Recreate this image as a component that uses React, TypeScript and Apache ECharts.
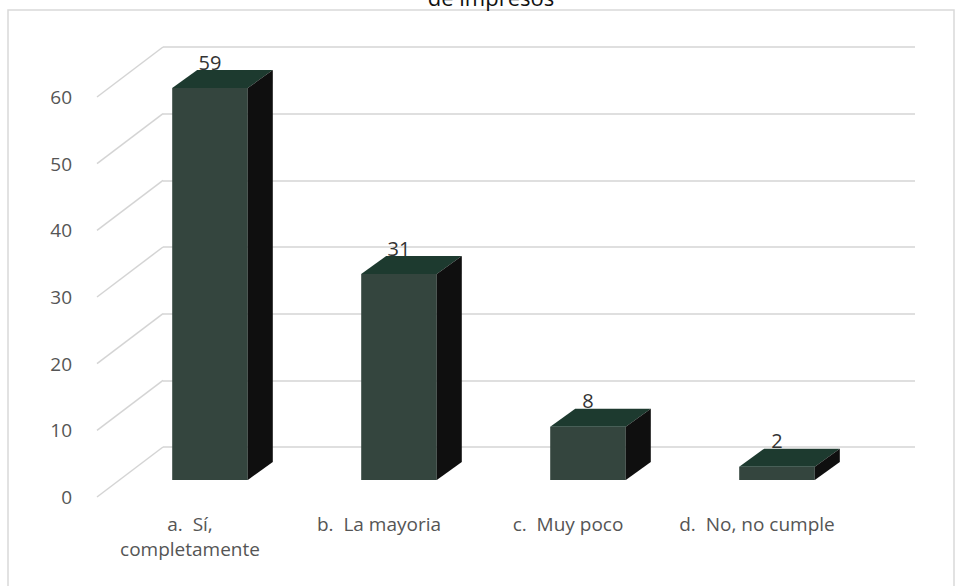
import React, { useEffect, useRef } from "react";
import * as echarts from "echarts";

const categories = ["a.  Sí,\ncompletamente", "b.  La mayoria", "c.  Muy poco", "d.  No, no cumple"];
const values = [59, 31, 8, 2];
const yTicks = [0, 10, 20, 30, 40, 50, 60];
const titleText = "de impresos";

const FONT = "'Open Sans', 'Noto Sans', sans-serif";
const DX = 25;
const DY = -18;

export default function App() {
  const ref = useRef<HTMLDivElement>(null);
  useEffect(() => {
    if (!ref.current) return;
    const chart = echarts.init(ref.current, null, { renderer: "svg" });
    const option: any = {
      animation: false,
      backgroundColor: "#ffffff",
      graphic: [
        {
          type: "rect",
          shape: { x: 8, y: 10, width: 946, height: 600 },
          style: { fill: "none", stroke: "#d9d9d9", lineWidth: 1.5 },
          silent: true,
        },
        {
          type: "text",
          x: 491,
          y: 8,
          style: {
            text: titleText,
            fill: "#111",
            font: `22px ${FONT}`,
            align: "center",
            verticalAlign: "bottom",
          },
          silent: true,
        },
      ],
      grid: [
        { left: 97, right: 47, top: 97, bottom: 89 },
        { left: 163, right: 47, top: 47, bottom: 139 },
        { left: 115.5, right: 90.5, top: 81.4, bottom: 106 },
      ],
      xAxis: [
        { gridIndex: 0, type: "value", min: 0, max: 1, show: false },
        { gridIndex: 1, type: "value", min: 0, max: 1, show: false },
        {
          gridIndex: 2,
          type: "category",
          data: categories,
          axisLine: { show: false },
          axisTick: { show: false },
          axisLabel: {
            color: "#555",
            fontFamily: FONT,
            fontSize: 19,
            lineHeight: 25,
            margin: 31,
            interval: 0,
            padding: [0, 40, 0, 0],
          },
        },
      ],
      yAxis: [
        {
          gridIndex: 0,
          type: "value",
          min: 0,
          max: 60,
          interval: 10,
          axisLine: { show: false },
          axisTick: { show: false },
          splitLine: { show: false },
          axisLabel: { color: "#555", fontFamily: FONT, fontSize: 19, margin: 25 },
        },
        {
          gridIndex: 1,
          type: "value",
          min: 0,
          max: 60,
          interval: 10,
          axisLine: { show: false },
          axisTick: { show: false },
          axisLabel: { show: false },
          splitLine: { show: true, lineStyle: { color: "#d4d4d4", width: 1.5 } },
        },
        {
          gridIndex: 2,
          type: "value",
          min: 0,
          max: 60,
          show: false,
        },
      ],
      series: [
        {
          type: "custom",
          xAxisIndex: 0,
          yAxisIndex: 0,
          data: yTicks.map((v) => [0, v]),
          silent: true,
          renderItem: (params: any, api: any) => {
            const p = api.coord([0, api.value(1)]);
            return {
              type: "line",
              shape: { x1: p[0], y1: p[1], x2: p[0] + 66, y2: p[1] - 50 },
              style: { stroke: "#d4d4d4", lineWidth: 1.5 },
            };
          },
        },
        {
          type: "custom",
          xAxisIndex: 2,
          yAxisIndex: 2,
          data: values.map((v, i) => [i, v]),
          renderItem: (params: any, api: any) => {
            const idx = api.value(0);
            const v = api.value(1);
            const base = api.coord([idx, 0]);
            const top = api.coord([idx, v]);
            const w = api.size([1, 0])[0] * 0.4;
            const x0 = base[0] - w / 2;
            const x1 = base[0] + w / 2;
            const yt = top[1];
            const yb = base[1];
            return {
              type: "group",
              children: [
                {
                  type: "rect",
                  shape: { x: x0, y: yt, width: w, height: yb - yt },
                  style: { fill: "#34453e" },
                },
                {
                  type: "polygon",
                  shape: {
                    points: [
                      [x0, yt],
                      [x0 + DX, yt + DY],
                      [x1 + DX, yt + DY],
                      [x1, yt],
                    ],
                  },
                  style: { fill: "#1d3a2f" },
                },
                {
                  type: "polygon",
                  shape: {
                    points: [
                      [x1, yt],
                      [x1 + DX, yt + DY],
                      [x1 + DX, yb + DY],
                      [x1, yb],
                    ],
                  },
                  style: { fill: "#0f0f0f" },
                },
                {
                  type: "text",
                  x: base[0],
                  y: yt - 26,
                  style: {
                    text: String(v),
                    fill: "#333",
                    font: `20px ${FONT}`,
                    align: "center",
                    verticalAlign: "middle",
                  },
                },
              ],
            };
          },
        },
      ],
    };
    chart.setOption(option);
    return () => chart.dispose();
  }, []);
  return (
    <div
      ref={ref}
      style={{ position: "fixed", left: 0, top: 0, width: 962, height: 586 }}
    />
  );
}
